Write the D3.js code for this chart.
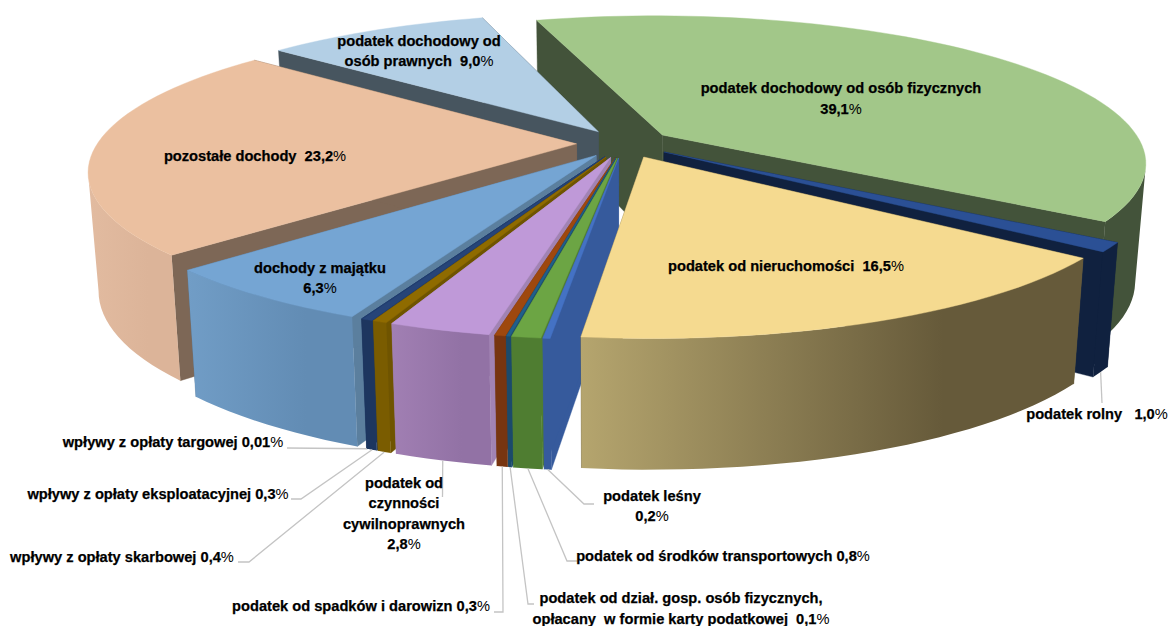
<!DOCTYPE html>
<html><head><meta charset="utf-8">
<script src="https://cdn.jsdelivr.net/npm/d3@7/dist/d3.min.js"></script>
<style>html,body{margin:0;padding:0;background:#fff}svg{display:block}text{font-family:"Liberation Sans",Arial,sans-serif;font-weight:700;fill:#000;white-space:pre}</style>
</head><body><svg id="c" width="1168" height="626"></svg>
<script>
// DATA (clockwise from the first slice)
const categories=["podatek dochodowy od osób fizycznych","podatek rolny","podatek od nieruchomości","podatek leśny","podatek od środków transportowych","podatek od dział. gosp. osób fizycznych, opłacany w formie karty podatkowej","podatek od spadków i darowizn","podatek od czynności cywilnoprawnych","wpływy z opłaty skarbowej","wpływy z opłaty eksploatacyjnej","wpływy z opłaty targowej","dochody z majątku","pozostałe dochody","podatek dochodowy od osób prawnych"];
const shares=[39.1,1.0,16.5,0.2,0.8,0.1,0.3,2.8,0.4,0.3,0.01,6.3,23.2,9.0];
const topColors=["#a2c789","#2b5095","#f5da90","#4472c4","#6ca544","#215f8b","#9e480e","#bf99d8","#8f6b00","#264478","#264478","#75a5d3","#ebc0a0","#b3cfe5"];
const faceColors=["#43533a","#10213f","#6b5f3e","#365a9c","#4f7d31","#1b4a6b","#773510","#a183b3","#6f5400","#1d365f","#1d365f","#5b7f9e","#7d6756","#47555f"];
const wallLight=["#43533a","#10213f","#b5a56e","#365a9c","#4f7d31","#1b4a6b","#773510","#a17fb3","#7a5c00","#1d365f","#1d365f","#719dc6","#e2bba0","#47555f"];
const wallDark=["#43533a","#10213f","#665a3a","#365a9c","#4f7d31","#1b4a6b","#773510","#9272a5","#7a5c00","#1d365f","#1d365f","#628cb4","#dcb499","#47555f"];
// slices painted back to front
const paintOrder=[0,13,12,11,10,9,8,7,6,5,4,3,1,2];
// label text, one entry per slice: lines of text
const labelLines=[
 ["podatek dochodowy od osób fizycznych","39,1%"],["podatek rolny   1,0%"],["podatek od nieruchomości  16,5%"],["podatek leśny","0,2%"],
 ["podatek od środków transportowych 0,8%"],["podatek od dział. gosp. osób fizycznych,","opłacany  w formie karty podatkowej  0,1%"],
 ["podatek od spadków i darowizn 0,3%"],["podatek od","czynności","cywilnoprawnych","2,8%"],["wpływy z opłaty skarbowej 0,4%"],
 ["wpływy z opłaty eksploatacyjnej 0,3%"],["wpływy z opłaty targowej 0,01%"],["dochody z majątku","6,3%"],["pozostałe dochody  23,2%"],["podatek dochodowy od","osób prawnych  9,0%"]];

// LAYOUT
const labelPos=[[841,88],[1097,414],[786,266],[652,496],[723,556],[681,598],[361,606],[404,483],[122,557],[158,494],[173,442],[320,268],[255,156],[419,41]];
const lineGap=[21,0,0,20,0,21,0,20.3,0,0,0,20,0,20];
// leader elbows: [elbow, end] of each line that starts on a slice's lower rim
const leaders={1:[[1102,403]],3:[[584,504],[594,504]],4:[[567,561],[577,561]],5:[[528,604],[534,604]],6:[[503,612],[494,612]],7:[[442.5,497]],8:[[249,562],[238,562]],9:[[301,499],[291,499]],10:[[287,448]]};
const fontSize=14.65;

const svg=d3.select("#c");
const pie=d3.pie().sort(null).value(d=>d).startAngle(-17*Math.PI/180).endAngle(343*Math.PI/180);
const arcs=pie(shares);

// perspective plan -> screen
const X0=612,Y0=145,RX=480,RY=144,K=0.18,H0=116,H1=14,TAPER=0.02;
const sx=d3.scaleLinear().domain([0,1]).range([X0,X0+RX]);
const explode=0.1,shiftU=0.026,shiftV=-0.01;
function proj(a,r,th,z){ // a = slice, r radius, th angle, z 0 top..1 bottom
  const m=(a.startAngle+a.endAngle)/2;
  const u=shiftU+explode*Math.sin(m)+r*Math.sin(th), v=shiftV-explode*Math.cos(m)-r*Math.cos(th);
  const w=1-K*v;
  return [sx(u/w*(1-TAPER*z)), Y0+RY*v/w+(H0+H1*v)*z];
}
const line=d3.line();
const defs=svg.append("defs");
const gMarks=svg.append("g"), gLead=svg.append("g"), gText=svg.append("g");

function thetas(t0,t1){
  const n=Math.max(2,Math.ceil((t1-t0)/(Math.PI/90)));
  return d3.range(n+1).map(i=>t0+(t1-t0)*i/n);
}
function arcPts(a,t0,t1,z){ return thetas(t0,t1).map(t=>proj(a,1,t,z)); }
paintOrder.forEach(i=>{
  const a=arcs[i], g=gMarks.append("g"), s=a.startAngle, e=a.endAngle;
  // cut faces
  [s,e].forEach(t=>{
    g.append("path").attr("fill",faceColors[i]).attr("stroke",faceColors[i]).attr("stroke-width",0.4)
     .attr("d",line([proj(a,0,t,0),proj(a,1,t,0),proj(a,1,t,1),proj(a,0,t,1)])+"Z");
  });
  // outer wall: only from the silhouette tangents on the viewer's side
  const ts=thetas(s,e);
  const t0=s>Math.PI/2?s:d3.greatest(ts,t=>proj(a,1,t,0)[0]);
  const t1=e<Math.PI*1.5?e:d3.least(ts,t=>proj(a,1,t,0)[0]);
  if(t1>t0){
    const top=arcPts(a,t0,t1,0), bot=arcPts(a,t0,t1,1).reverse();
    const xs=top.map(p=>p[0]);
    const id="w"+i;
    const gr=defs.append("linearGradient").attr("id",id).attr("gradientUnits","userSpaceOnUse")
      .attr("x1",d3.min(xs)).attr("x2",d3.max(xs)).attr("y1",0).attr("y2",0);
    gr.append("stop").attr("offset",0).attr("stop-color",wallLight[i]);
    gr.append("stop").attr("offset",0.72).attr("stop-color",wallDark[i]);
    g.append("path").attr("fill",`url(#${id})`).attr("d",line(top.concat(bot))+"Z");
  }
  // top face
  g.append("path").attr("fill",topColors[i]).attr("stroke",topColors[i]).attr("stroke-width",0.4)
   .attr("d",line([proj(a,0,s,0)].concat(arcPts(a,s,e,0)))+"Z");
});

// leaders
Object.keys(leaders).forEach(k=>{
  const a=arcs[+k], m=(a.startAngle+a.endAngle)/2;
  gLead.append("path").attr("fill","none").attr("stroke","#c4c4c4").attr("stroke-width",1.3)
   .attr("d",line([proj(a,1,m,1)].concat(leaders[k])));
});

// labels
labelLines.forEach((ls,i)=>{
  ls.forEach((t,j)=>{
    const el=gText.append("text").attr("x",labelPos[i][0]).attr("y",labelPos[i][1]+j*lineGap[i]+5)
      .attr("text-anchor","middle").attr("font-size",fontSize).attr("xml:space","preserve")
      .attr("stroke","#000").attr("stroke-width",0.25);
    const pct=t.endsWith("%");
    el.append("tspan").text(pct?t.slice(0,-1):t);
    if(pct) el.append("tspan").style("font-weight",400).attr("stroke-width",0).text("%");
  });
});
</script></body></html>
